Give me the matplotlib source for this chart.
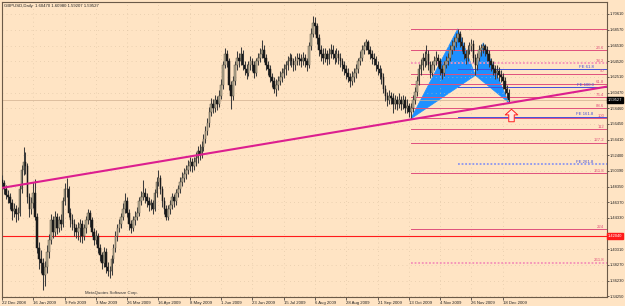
import numpy as np
import matplotlib
matplotlib.use('Agg')
import matplotlib.pyplot as plt
from matplotlib.path import Path
from matplotlib.patches import Polygon
from matplotlib.transforms import blended_transform_factory

# daily GBPUSD bars (bar 0 = 22 Dec 2008)
closes = [
    1.488, 1.480, 1.473, 1.470, 1.463, 1.452, 1.455, 1.448, 1.450, 1.480,
    1.505, 1.515, 1.510, 1.470, 1.455, 1.462, 1.475, 1.445, 1.405, 1.390,
    1.385, 1.370, 1.380, 1.400, 1.415, 1.440, 1.425, 1.445, 1.430, 1.440,
    1.435, 1.465, 1.480, 1.480, 1.450, 1.440, 1.435, 1.430, 1.425, 1.430,
    1.435, 1.420, 1.430, 1.440, 1.450, 1.440, 1.425, 1.415, 1.420, 1.405,
    1.395, 1.385, 1.400, 1.380, 1.375, 1.375, 1.390, 1.405, 1.420, 1.430,
    1.435, 1.445, 1.455, 1.465, 1.450, 1.435, 1.430, 1.440, 1.445, 1.450,
    1.465, 1.470, 1.475, 1.470, 1.465, 1.460, 1.462, 1.455, 1.475, 1.490,
    1.495, 1.480, 1.465, 1.455, 1.445, 1.455, 1.460, 1.470, 1.465, 1.475,
    1.480, 1.490, 1.495, 1.500, 1.505, 1.510, 1.515, 1.510, 1.515, 1.520,
    1.530, 1.525, 1.535, 1.545, 1.555, 1.565, 1.580, 1.590, 1.585, 1.595,
    1.590, 1.600, 1.615, 1.640, 1.655, 1.645, 1.615, 1.600, 1.620, 1.640,
    1.650, 1.645, 1.655, 1.640, 1.635, 1.630, 1.640, 1.645, 1.640, 1.630,
    1.645, 1.650, 1.655, 1.660, 1.650, 1.640, 1.635, 1.625, 1.620, 1.610,
    1.615, 1.620, 1.625, 1.630, 1.635, 1.640, 1.645, 1.650, 1.645, 1.640,
    1.645, 1.650, 1.648, 1.645, 1.650, 1.645, 1.640, 1.665, 1.680, 1.695,
    1.690, 1.675, 1.660, 1.655, 1.650, 1.655, 1.648, 1.655, 1.660, 1.655,
    1.650, 1.655, 1.650, 1.645, 1.640, 1.635, 1.630, 1.625, 1.620, 1.625,
    1.630, 1.635, 1.645, 1.650, 1.660, 1.665, 1.670, 1.660, 1.655, 1.650,
    1.648, 1.640, 1.635, 1.630, 1.625, 1.610, 1.600, 1.595, 1.600, 1.598,
    1.590, 1.595, 1.590, 1.595, 1.590, 1.595, 1.585, 1.588, 1.580, 1.585,
    1.595, 1.605, 1.620, 1.635, 1.640, 1.650, 1.645, 1.655, 1.640, 1.630,
    1.640, 1.645, 1.650, 1.645, 1.635, 1.630, 1.640, 1.645, 1.650, 1.660,
    1.665, 1.670, 1.675, 1.680, 1.670, 1.665, 1.655, 1.650, 1.660, 1.665,
    1.668, 1.650, 1.640, 1.650, 1.660, 1.662, 1.665, 1.660, 1.655, 1.645,
    1.640, 1.635, 1.630, 1.632, 1.628, 1.625, 1.620, 1.610, 1.6047, 1.59527,
]
highs = [
    1.498, 1.492, 1.486, 1.479, 1.476, 1.468, 1.462, 1.460, 1.458, 1.486,
    1.512, 1.535, 1.528, 1.514, 1.476, 1.470, 1.490, 1.493, 1.450, 1.412,
    1.402, 1.392, 1.388, 1.408, 1.422, 1.448, 1.446, 1.452, 1.450, 1.446,
    1.448, 1.470, 1.488, 1.495, 1.484, 1.456, 1.448, 1.442, 1.436, 1.438,
    1.442, 1.440, 1.436, 1.446, 1.455, 1.454, 1.445, 1.430, 1.428, 1.424,
    1.410, 1.400, 1.406, 1.404, 1.386, 1.382, 1.396, 1.410, 1.426, 1.436,
    1.442, 1.450, 1.462, 1.475, 1.470, 1.455, 1.440, 1.446, 1.452, 1.458,
    1.470, 1.478, 1.492, 1.482, 1.476, 1.470, 1.468, 1.466, 1.480, 1.496,
    1.505, 1.498, 1.484, 1.470, 1.460, 1.460, 1.466, 1.476, 1.474, 1.480,
    1.486, 1.496, 1.502, 1.508, 1.512, 1.518, 1.522, 1.520, 1.522, 1.528,
    1.536, 1.538, 1.542, 1.552, 1.562, 1.572, 1.586, 1.598, 1.596, 1.602,
    1.600, 1.608, 1.622, 1.646, 1.662, 1.660, 1.650, 1.620, 1.626, 1.646,
    1.658, 1.656, 1.664, 1.660, 1.646, 1.642, 1.646, 1.652, 1.650, 1.645,
    1.650, 1.656, 1.662, 1.673, 1.666, 1.655, 1.645, 1.640, 1.630, 1.625,
    1.622, 1.626, 1.632, 1.636, 1.642, 1.646, 1.652, 1.656, 1.654, 1.650,
    1.652, 1.656, 1.656, 1.654, 1.657, 1.655, 1.650, 1.670, 1.688, 1.704,
    1.702, 1.694, 1.680, 1.666, 1.662, 1.662, 1.660, 1.662, 1.668, 1.666,
    1.660, 1.662, 1.660, 1.656, 1.650, 1.646, 1.640, 1.636, 1.630, 1.632,
    1.636, 1.642, 1.650, 1.658, 1.666, 1.670, 1.674, 1.672, 1.665, 1.660,
    1.656, 1.652, 1.646, 1.640, 1.636, 1.630, 1.615, 1.606, 1.608, 1.606,
    1.604, 1.602, 1.600, 1.604, 1.600, 1.602, 1.600, 1.596, 1.592, 1.592,
    1.602, 1.612, 1.626, 1.642, 1.648, 1.656, 1.658, 1.666, 1.660, 1.645,
    1.646, 1.652, 1.658, 1.655, 1.650, 1.640, 1.646, 1.652, 1.656, 1.666,
    1.672, 1.676, 1.682, 1.687, 1.684, 1.676, 1.670, 1.660, 1.666, 1.670,
    1.674, 1.672, 1.654, 1.656, 1.666, 1.668, 1.669, 1.668, 1.665, 1.660,
    1.650, 1.646, 1.640, 1.640, 1.638, 1.634, 1.630, 1.625, 1.615, 1.6098,
]
lows = [
    1.482, 1.474, 1.468, 1.463, 1.455, 1.440, 1.444, 1.438, 1.441, 1.446,
    1.475, 1.498, 1.500, 1.462, 1.445, 1.448, 1.456, 1.440, 1.398, 1.378,
    1.372, 1.350, 1.355, 1.372, 1.392, 1.410, 1.418, 1.420, 1.422, 1.425,
    1.428, 1.432, 1.460, 1.470, 1.445, 1.432, 1.428, 1.420, 1.418, 1.415,
    1.412, 1.411, 1.415, 1.424, 1.435, 1.432, 1.420, 1.408, 1.410, 1.398,
    1.388, 1.378, 1.380, 1.372, 1.368, 1.366, 1.370, 1.385, 1.400, 1.414,
    1.425, 1.430, 1.440, 1.450, 1.445, 1.428, 1.424, 1.426, 1.434, 1.440,
    1.446, 1.460, 1.466, 1.462, 1.458, 1.452, 1.454, 1.448, 1.452, 1.470,
    1.484, 1.474, 1.458, 1.448, 1.440, 1.441, 1.448, 1.455, 1.458, 1.460,
    1.470, 1.475, 1.485, 1.490, 1.494, 1.500, 1.504, 1.502, 1.505, 1.510,
    1.514, 1.518, 1.520, 1.530, 1.540, 1.550, 1.560, 1.575, 1.578, 1.580,
    1.582, 1.586, 1.596, 1.610, 1.636, 1.638, 1.608, 1.584, 1.595, 1.615,
    1.634, 1.638, 1.640, 1.634, 1.628, 1.622, 1.626, 1.634, 1.632, 1.624,
    1.626, 1.640, 1.644, 1.650, 1.644, 1.634, 1.628, 1.618, 1.612, 1.604,
    1.600, 1.608, 1.614, 1.618, 1.624, 1.628, 1.634, 1.640, 1.638, 1.632,
    1.634, 1.640, 1.640, 1.638, 1.640, 1.638, 1.632, 1.636, 1.660, 1.676,
    1.680, 1.668, 1.652, 1.646, 1.642, 1.644, 1.640, 1.642, 1.650, 1.648,
    1.642, 1.644, 1.642, 1.638, 1.632, 1.628, 1.622, 1.618, 1.612, 1.614,
    1.618, 1.624, 1.630, 1.640, 1.645, 1.654, 1.660, 1.654, 1.648, 1.642,
    1.640, 1.632, 1.628, 1.622, 1.616, 1.604, 1.594, 1.588, 1.590, 1.590,
    1.578, 1.584, 1.582, 1.585, 1.582, 1.584, 1.578, 1.578, 1.574, 1.571,
    1.580, 1.590, 1.600, 1.615, 1.628, 1.634, 1.638, 1.640, 1.634, 1.624,
    1.626, 1.634, 1.640, 1.638, 1.628, 1.622, 1.626, 1.636, 1.640, 1.646,
    1.655, 1.660, 1.664, 1.670, 1.664, 1.658, 1.648, 1.642, 1.645, 1.654,
    1.658, 1.644, 1.627, 1.634, 1.645, 1.652, 1.656, 1.652, 1.646, 1.638,
    1.632, 1.628, 1.622, 1.624, 1.620, 1.618, 1.610, 1.603, 1.598, 1.59207,
]
first_open = 1.492

date_ticks = list(range(0, 257, 16))
date_labels = ['22 Dec 2008', '16 Jan 2009', '9 Feb 2009', '3 Mar 2009', '26 Mar 2009',
               '16 Apr 2009', '8 May 2009', '1 Jun 2009', '23 Jun 2009', '15 Jul 2009',
               '6 Aug 2009', '28 Aug 2009', '21 Sep 2009', '13 Oct 2009', '4 Nov 2009',
               '26 Nov 2009', '18 Dec 2009']
price_ticks = [1.70610, 1.68570, 1.66530, 1.64520, 1.62510, 1.60470, 1.58460, 1.56450,
               1.54410, 1.52400, 1.50390, 1.48350, 1.46370, 1.44330, 1.40310, 1.38270,
               1.36230, 1.34250]

# XABCD pattern bars (index of the swing bar)
x_bar, a_bar, b_bar, c_bar, d_bar = 209, 233, 242, 246, 259

# fibo retracement anchors and levels
fib_high, fib_low = 1.6867, 1.5717
fib_levels = [0.0, 23.6, 38.2, 50.0, 61.8, 76.4, 88.6, 100.0, 112.0, 127.2, 161.8, 224.0, 261.8]
fib_labels = ['', '23.6', '38.2', '50', '61.8', '76.4', '88.6', '100', '112', '127.2',
              '161.8', '224', '261.8']
fib_dotted = ['38.2', '261.8']
# fibo expansion anchors and levels
fe_a, fe_b, fe_c = 1.6867, 1.6254, 1.6729
fe_levels = [61.8, 100.0, 161.8, 261.8]
fe_labels = ['FE 61.8', 'FE 100.0', 'FE 161.8', 'FE 261.8']

trend_x = [0, 310]
trend_y = [1.4820, 1.6128]
red_level = 1.42040

bg = '#ffe4c4'
font = 'Liberation Sans'
fs = 3.1

opens = [first_open] + closes[:-1]
o = np.array(opens)
c = np.array(closes)
h = np.maximum(np.array(highs), np.maximum(o, c))
l = np.minimum(np.array(lows), np.minimum(o, c))
idx = np.arange(len(c))

fig = plt.figure(figsize=(6.25, 3.06), dpi=100, facecolor=bg)
ax = fig.add_axes([2 / 625, 9 / 306, 605 / 625, 295 / 306])
ax.set_facecolor(bg)
ax.set_xlim(0.3, 309.3)
ax.set_ylim(1.34141, 1.72156)

# grid
ax.set_xticks(date_ticks)
ax.set_yticks(price_ticks)
ax.grid(True, color='#d8bf9f', linestyle=(0, (1, 5)), linewidth=0.5)

# blue harmonic triangles (behind the bars)
X = (x_bar, l[x_bar]); A = (a_bar, h[a_bar]); B = (b_bar, l[b_bar])
C = (c_bar, h[c_bar]); D = (d_bar, l[d_bar])
ax.add_patch(Polygon([X, A, B], closed=True, fc='#1e90ff', ec='#1e90ff', lw=0.5, zorder=1))
ax.add_patch(Polygon([B, C, D], closed=True, fc='#1e90ff', ec='#1e90ff', lw=0.5, zorder=1))

# fib retracement
rng = fib_high - fib_low
for lv, lab in zip(fib_levels, fib_labels):
    y = fib_high - lv / 100 * rng
    if lab in fib_dotted:
        ax.plot([x_bar, 309.3], [y, y], color='#f48fb8', lw=1.3, ls=(0, (1, 1)), zorder=2)
    else:
        ax.plot([x_bar, 309.3], [y, y], color='#e0507c', lw=0.7, zorder=2)
    if lab:
        ax.text(307.8, y + 0.0005, lab, color='#e0507c', fontsize=fs, family=font,
                ha='right', va='bottom', zorder=6)

# fib expansion
ab = fe_a - fe_b
for lv, lab in zip(fe_levels, fe_labels):
    y = fe_c - lv / 100 * ab
    if lv > 200:
        ax.plot([a_bar, 309.3], [y, y], color='#8c96f0', lw=1.3, ls=(0, (1, 1)), zorder=2)
    else:
        ax.plot([a_bar, 309.3], [y, y], color='#4150dc', lw=0.7, zorder=2)
    ax.text(302.4, y + 0.0005, lab, color='#4150dc', fontsize=fs, family=font,
            ha='right', va='bottom', zorder=6)

# horizontal lines: red level and bid line
ax.axhline(red_level, color='#ff1a1a', lw=0.8, zorder=2)
ax.axhline(c[-1], color='#d0b090', lw=0.5, zorder=2)

# candles
up = c >= o
ax.vlines(idx, l, h, color='#3c3c3c', lw=0.75, zorder=3)
ax.bar(idx[up], c[up] - o[up], bottom=o[up], width=0.85, color='#b3a890',
       edgecolor='#5e5848', lw=0.35, zorder=4)
ax.bar(idx[~up], o[~up] - c[~up], bottom=c[~up], width=0.85, color='#1a1a1a',
       edgecolor='#1a1a1a', lw=0.35, zorder=4)

# trend line
ax.plot(trend_x, trend_y, color='#dc1e8f', lw=1.5, zorder=5, solid_capstyle='butt')

# up arrow under D
arrow = Path([(-0.22, -0.5), (0.22, -0.5), (0.22, 0.05), (0.5, 0.05), (0, 0.5),
              (-0.5, 0.05), (-0.22, 0.05), (-0.22, -0.5)], closed=True)
ax.plot([d_bar + 1], [l[d_bar] - 0.0155], marker=arrow, ms=9, mfc='#ffe8e0',
        mec='#ff2020', mew=0.7, zorder=6)

# axes styling
for s in ax.spines.values():
    s.set_color('#6b5a48')
    s.set_linewidth(0.8)
ax.yaxis.tick_right()
ax.set_xticklabels(date_labels)
ax.set_yticklabels([f'{p:.5f}' for p in price_ticks])
ax.tick_params(axis='x', labelsize=fs, colors='#222222', length=2, width=0.5, pad=1)
ax.tick_params(axis='y', labelsize=2.9, colors='#222222', length=1.5, width=0.5, pad=0.5)
for t in ax.get_xticklabels():
    t.set_ha('left')
    t.set_family(font)
for t in ax.get_yticklabels():
    t.set_family(font)

# price boxes on the right scale
tr = blended_transform_factory(ax.transAxes, ax.transData)
ax.text(1.0015, c[-1], f'{c[-1]:.5f}', transform=tr, ha='left', va='center', fontsize=2.9,
        family=font, color='white', zorder=10, clip_on=False,
        bbox=dict(boxstyle='square,pad=0.25', fc='black', ec='black'))
ax.text(1.0015, red_level, f'{red_level:.5f}', transform=tr, ha='left', va='center',
        fontsize=2.9, family=font, color='white', zorder=10, clip_on=False,
        bbox=dict(boxstyle='square,pad=0.25', fc='#ff1a1a', ec='#ff1a1a'))

# title and copyright
fig.text(4 / 625, 1 - 6 / 306,
         f'GBPUSD,Daily  {o[-1]:.5f} {h[-1]:.5f} {l[-1]:.5f} {c[-1]:.5f}',
         fontsize=fs, family=font, color='#222222', ha='left', va='center')
ax.text(0.137, 0.014, 'MetaQuotes Software Corp.', transform=ax.transAxes, fontsize=fs,
        family=font, color='#333333', ha='left', va='center', zorder=6)

fig.savefig('out.png', dpi=100, facecolor=bg)
